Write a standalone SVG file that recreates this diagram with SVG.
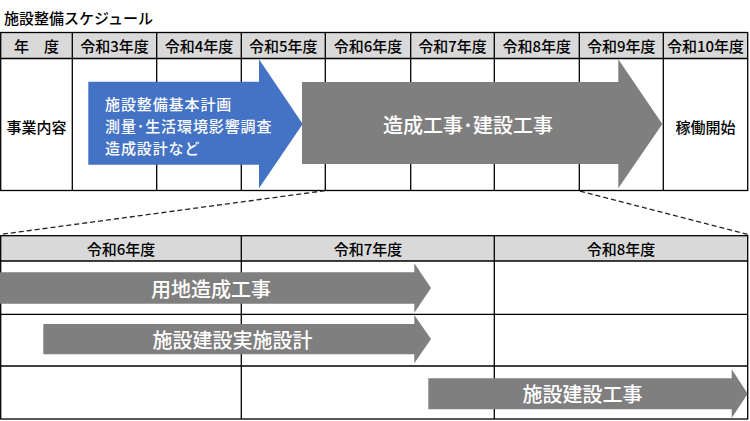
<svg xmlns="http://www.w3.org/2000/svg" width="750" height="421" viewBox="0 0 750 421">
<style>
text{font-family:"Noto Sans CJK JP","Noto Sans",sans-serif;dominant-baseline:central;font-weight:500}
.hd{fill:#d9d9d9}
.ln{stroke:#000;stroke-width:1.3;fill:none}
.t{font-size:15px;fill:#000;text-anchor:middle}
.w{fill:#fff;text-anchor:middle;font-size:20px}
.b{font-size:15px;fill:#fff;letter-spacing:0.9px}
.gray{fill:#7f7f7f}
.dash{stroke:#222;stroke-width:1.3;stroke-dasharray:5 3;fill:none}
</style>
<rect width="750" height="421" fill="#fff"/>
<text id="title" x="4" y="17" font-size="15" fill="#000">施設整備スケジュール</text>

<g id="top-table">
<rect class="hd" x="0.7" y="32.5" width="747" height="26"/>
<rect class="ln" x="0.7" y="32.5" width="747" height="158"/>
<line class="ln" x1="0.7" y1="58.5" x2="747.7" y2="58.5"/>
<path class="ln" d="M72.3 32.5V190.5M156.7 32.5V190.5M241.3 32.5V190.5M325.3 32.5V190.5M410.7 32.5V190.5M494.3 32.5V190.5M579.3 32.5V190.5M663.3 32.5V190.5"/>
<text class="t" x="36.5" y="45.5">年　度</text>
<text class="t" x="114.5" y="45.5">令和3年度</text>
<text class="t" x="199" y="45.5">令和4年度</text>
<text class="t" x="283.3" y="45.5">令和5年度</text>
<text class="t" x="368" y="45.5">令和6年度</text>
<text class="t" x="452.5" y="45.5">令和7年度</text>
<text class="t" x="536.8" y="45.5">令和8年度</text>
<text class="t" x="621.3" y="45.5">令和9年度</text>
<text class="t" x="705.5" y="45.5">令和10年度</text>
<text class="t" x="36.5" y="126">事業内容</text>
<text class="t" x="705.5" y="126">稼働開始</text>
</g>

<g id="arrow-plan">
<polygon fill="#4472c4" points="88.3,81.7 259,81.7 259,59.3 302.7,124 259,188.3 259,164.7 88.3,164.7"/>
<text class="b" x="105" y="103.5">施設整備基本計画</text>
<text class="b" x="105" y="125.5">測量･生活環境影響調査</text>
<text class="b" x="105" y="147.5">造成設計など</text>
</g>

<g id="arrow-construction">
<polygon class="gray" points="302,82 618.3,82 618.3,59.3 662.3,124 618.3,188.3 618.3,164 302,164"/>
<text class="w" x="468" y="124">造成工事･建設工事</text>
</g>

<g id="connectors">
<line class="dash" x1="325" y1="190.7" x2="0" y2="234.5"/>
<line class="dash" x1="580" y1="191.2" x2="747.7" y2="234.5"/>
</g>

<g id="bottom-table">
<rect class="hd" x="0.7" y="235.7" width="747" height="25.3"/>
<rect class="ln" x="0.7" y="235.7" width="747" height="183.3"/>
<line class="ln" x1="0.7" y1="261" x2="747.7" y2="261"/>
<line class="ln" x1="0.7" y1="314.3" x2="747.7" y2="314.3"/>
<line class="ln" x1="0.7" y1="366" x2="747.7" y2="366"/>
<path class="ln" d="M241.3 235.7V419M494.3 235.7V419"/>
<text class="t" x="121" y="248.5">令和6年度</text>
<text class="t" x="368" y="248.5">令和7年度</text>
<text class="t" x="621" y="248.5">令和8年度</text>
</g>

<g id="arrow-land">
<polygon class="gray" points="0,272.3 414.3,272.3 414.3,263.3 431,288 414.3,312.7 414.3,303.7 0,303.7"/>
<text class="w" x="211" y="288.5">用地造成工事</text>
</g>

<g id="arrow-design">
<polygon class="gray" points="43.3,324 414.3,324 414.3,315 431,339 414.3,363.3 414.3,354.3 43.3,354.3"/>
<text class="w" x="232.5" y="339">施設建設実施設計</text>
</g>

<g id="arrow-build">
<polygon class="gray" points="428.3,378.3 731.7,378.3 731.7,369.3 747.7,393.7 731.7,418 731.7,409.3 428.3,409.3"/>
<text class="w" x="582.5" y="393.5">施設建設工事</text>
</g>
</svg>
